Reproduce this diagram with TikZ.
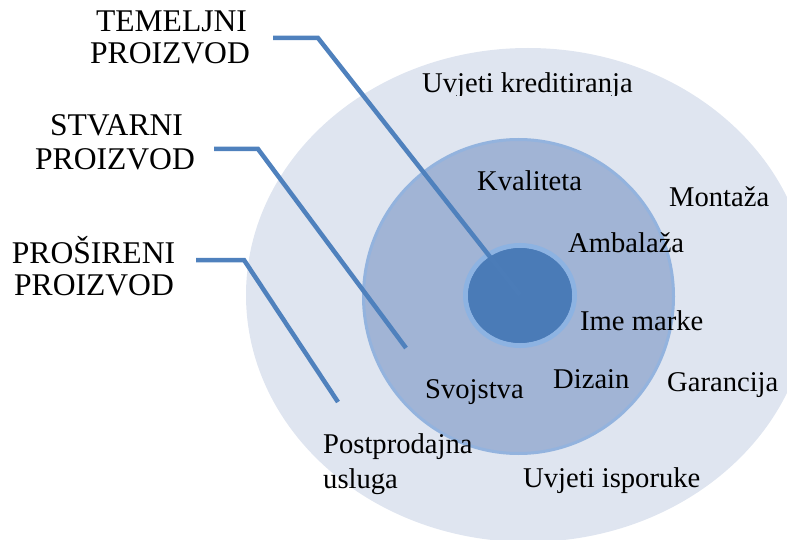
\documentclass[tikz,border=0pt]{standalone}
\usepackage{fontspec}
\setmainfont{Liberation Serif}
\definecolor{outerfill}{HTML}{DFE5F0}
\definecolor{midfill}{HTML}{A1B4D5}
\definecolor{midborder}{HTML}{93B3DE}
\definecolor{innerring}{HTML}{8DB3E2}
\definecolor{innerfill}{HTML}{4A7BB7}
\definecolor{linecol}{HTML}{4F81BD}
\begin{document}
\begin{tikzpicture}[x=1pt,y=-1pt,
  item/.style={anchor=base west,inner sep=0pt,font=\fontsize{28.6}{34}\selectfont},
  label/.style={anchor=base,inner sep=0pt,font=\fontsize{31.6}{33}\selectfont},
  leader/.style={draw=linecol,line width=4.5pt}]
\useasboundingbox (0,0) rectangle (787,540);
\clip (0,0) rectangle (787,540);
% rings
\fill[outerfill] (528,295) ellipse [x radius=282, y radius=247];
\filldraw[fill=midfill,draw=midborder,line width=3pt] (518.5,296.5) ellipse [x radius=155, y radius=157];
\filldraw[fill=innerfill,draw=innerring,line width=5pt] (520,295.5) ellipse [x radius=54.5, y radius=50];
% leader coordinates
\coordinate (s1) at (273,38);
\coordinate (b1) at (318,38);
\coordinate (e1) at (520,295);
\coordinate (s2) at (214,149);
\coordinate (b2) at (258,149);
\coordinate (e2) at (406,348);
\coordinate (s3) at (196,260);
\coordinate (b3) at (244,260);
\coordinate (e3) at (338,402);
\draw[leader] (s1) -- (b1) -- (e1);
\draw[leader] (s2) -- (b2) -- (e2);
\draw[leader] (s3) -- (b3) -- (e3);
% inner core over the leader end
\fill[innerfill,fill opacity=0.8] (520,295.5) ellipse [x radius=52, y radius=47.5];
% labels
\node[label] (t1a) at (171.5,32) {TEMELJNI};
\node[label] (t1b) at (170,64) {PROIZVOD};
\node[label] (t2a) at (116.5,136) {STVARNI};
\node[label] (t2b) at (115,170) {PROIZVOD};
\node[label] (t3a) at (93.5,263) {PROŠIRENI};
\node[label] (t3b) at (94,295) {PROIZVOD};
% items
\begin{scope}
\clip (400,50) rectangle (660,96);
\node[item] (kred) at (422,93) {Uvjeti kreditiranja};
\end{scope}
\node[item] (kval) at (477,191) {Kvaliteta};
\node[item] (mont) at (669,207) {Montaža};
\node[item] (amb) at (568,252) {Ambalaža};
\node[item] (ime) at (580,330) {Ime marke};
\node[item] (diz) at (553,388) {Dizain};
\node[item] (svoj) at (425,398) {Svojstva};
\node[item] (gar) at (667,391) {Garancija};
\node[item] (post1) at (323,453) {Postprodajna};
\node[item] (post2) at (323,488) {usluga};
\node[item] (isp) at (523,487) {Uvjeti isporuke};
\end{tikzpicture}
\end{document}
